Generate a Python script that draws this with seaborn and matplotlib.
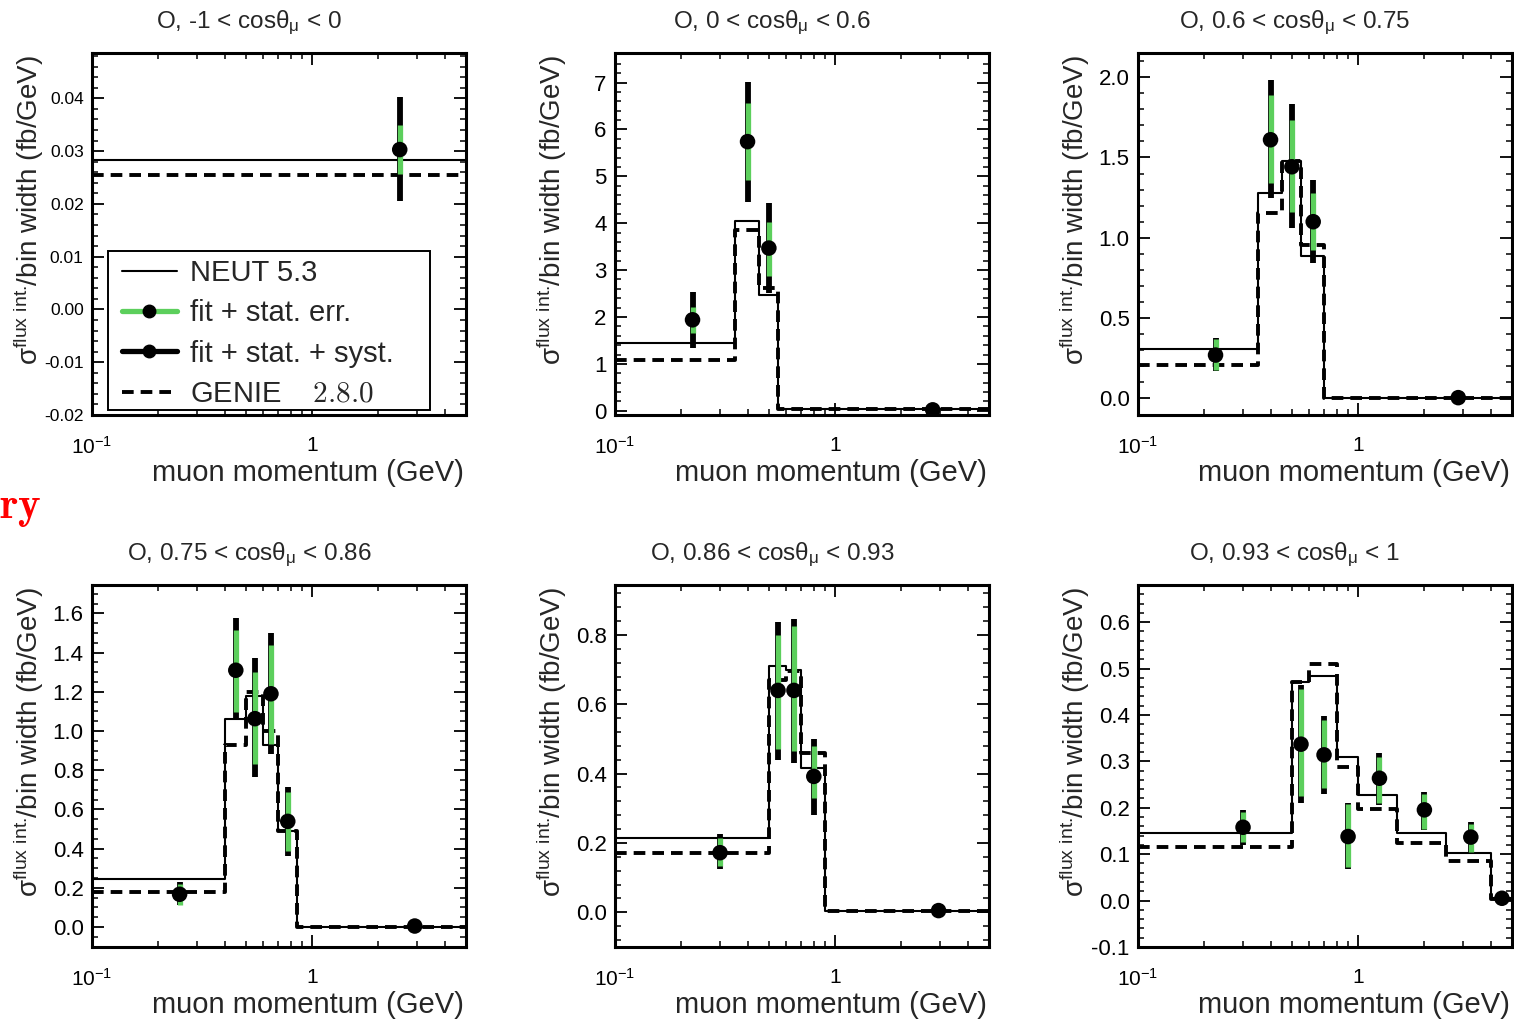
import numpy as np
import matplotlib
matplotlib.use("Agg")
import matplotlib.pyplot as plt
import seaborn as sns
from matplotlib.lines import Line2D
from matplotlib.patches import Rectangle
from matplotlib.ticker import FixedLocator, FixedFormatter, MultipleLocator, AutoMinorLocator, FormatStrFormatter, NullFormatter

# ---------------- data ----------------
titles = ["O, -1 < cosθ$_{μ}$ < 0", "O, 0 < cosθ$_{μ}$ < 0.6", "O, 0.6 < cosθ$_{μ}$ < 0.75",
          "O, 0.75 < cosθ$_{μ}$ < 0.86", "O, 0.86 < cosθ$_{μ}$ < 0.93", "O, 0.93 < cosθ$_{μ}$ < 1"]

p1_edges = [0.1, 5.0]
p1_neut = [0.0284]
p1_genie = [0.0254]
p1_x = [2.5]
p1_y = [0.0303]
p1_stat_lo = [0.0257]; p1_stat_hi = [0.0349]
p1_syst_lo = [0.0206]; p1_syst_hi = [0.0402]

p2_edges = [0.1, 0.35, 0.45, 0.55, 5.0]
p2_neut = [1.45, 4.05, 2.47, 0.03]
p2_genie = [1.08, 3.86, 2.61, 0.04]
p2_x = [0.225, 0.4, 0.5, 2.775]
p2_y = [1.94, 5.74, 3.47, 0.02]
p2_stat_lo = [1.65, 4.92, 2.87, 0.0]; p2_stat_hi = [2.22, 6.56, 4.03, 0.04]
p2_syst_lo = [1.33, 4.46, 2.52, 0.0]; p2_syst_hi = [2.54, 7.02, 4.43, 0.04]

p3_edges = [0.1, 0.35, 0.45, 0.55, 0.7, 5.0]
p3_neut = [0.306, 1.28, 1.48, 0.888, 0.0]
p3_genie = [0.208, 1.153, 1.48, 0.957, 0.0]
p3_x = [0.225, 0.4, 0.5, 0.625, 2.85]
p3_y = [0.27, 1.61, 1.442, 1.10, 0.005]
p3_stat_lo = [0.177, 1.339, 1.163, 0.926, 0.0]; p3_stat_hi = [0.368, 1.886, 1.73, 1.28, 0.01]
p3_syst_lo = [0.17, 1.246, 1.06, 0.843, 0.0]; p3_syst_hi = [0.375, 1.98, 1.835, 1.36, 0.01]

p4_edges = [0.1, 0.4, 0.5, 0.6, 0.7, 0.85, 5.0]
p4_neut = [0.244, 1.06, 1.18, 0.93, 0.49, 0.0]
p4_genie = [0.18, 0.93, 1.2, 1.0, 0.49, 0.0]
p4_x = [0.25, 0.45, 0.55, 0.65, 0.775, 2.925]
p4_y = [0.167, 1.31, 1.063, 1.19, 0.539, 0.005]
p4_stat_lo = [0.11, 1.097, 0.83, 0.934, 0.39, 0.0]; p4_stat_hi = [0.22, 1.515, 1.30, 1.44, 0.69, 0.01]
p4_syst_lo = [0.11, 1.054, 0.764, 0.884, 0.363, 0.0]; p4_syst_hi = [0.23, 1.575, 1.37, 1.498, 0.716, 0.01]

p5_edges = [0.1, 0.5, 0.6, 0.7, 0.9, 5.0]
p5_neut = [0.2136, 0.711, 0.70, 0.417, 0.005]
p5_genie = [0.172, 0.67, 0.695, 0.46, 0.003]
p5_x = [0.3, 0.55, 0.65, 0.8, 2.95]
p5_y = [0.172, 0.64, 0.64, 0.392, 0.005]
p5_stat_lo = [0.135, 0.47, 0.465, 0.33, 0.0]; p5_stat_hi = [0.215, 0.80, 0.825, 0.48, 0.01]
p5_syst_lo = [0.125, 0.44, 0.43, 0.28, 0.0]; p5_syst_hi = [0.225, 0.838, 0.845, 0.50, 0.01]

p6_edges = [0.1, 0.5, 0.6, 0.8, 1.0, 1.5, 2.5, 4.0, 5.0]
p6_neut = [0.1447, 0.470, 0.485, 0.31, 0.227, 0.145, 0.1024, 0.005]
p6_genie = [0.115, 0.47, 0.51, 0.288, 0.197, 0.125, 0.0845, 0.003]
p6_x = [0.3, 0.55, 0.7, 0.9, 1.25, 2.0, 3.25, 4.5]
p6_y = [0.158, 0.337, 0.314, 0.138, 0.2636, 0.1955, 0.1368, 0.005]
p6_stat_lo = [0.126, 0.225, 0.243, 0.072, 0.21, 0.155, 0.105, 0.0]; p6_stat_hi = [0.19, 0.455, 0.39, 0.208, 0.31, 0.23, 0.165, 0.01]
p6_syst_lo = [0.12, 0.21, 0.229, 0.068, 0.207, 0.152, 0.10, 0.0]; p6_syst_hi = [0.195, 0.465, 0.397, 0.21, 0.318, 0.235, 0.17, 0.01]

ylims = [(-0.02, 0.0486), (-0.09, 7.63), (-0.103, 2.15), (-0.102, 1.745), (-0.1, 0.944), (-0.1, 0.68)]
ymajor = [0.01, 1, 0.5, 0.2, 0.2, 0.1]
yminor_n = [5, 5, 5, 4, 5, 5]
yfmt = ["%.2f", "%d", "%.1f", "%.1f", "%.1f", "%.1f"]
x_tick_vals = [0.1, 1.0]
x_tick_labels = ["10$^{-1}$", "1"]
x_minor_vals = [0.2, 0.3, 0.4, 0.5, 0.6, 0.7, 0.8, 0.9, 2, 3, 4]

legend_labels = ["NEUT 5.3", "fit + stat. err.", "fit + stat. + syst.", r"GENIE    $\mathrm{2.8.0}$"]
xlabel = "muon momentum (GeV)"
ylabel = "σ$^{flux\\ int.}\\!$/bin width (fb/GeV)"
corner_text = r"$\mathbf{ry}$"

panels = [
    (p1_edges, p1_neut, p1_genie, p1_x, p1_y, p1_stat_lo, p1_stat_hi, p1_syst_lo, p1_syst_hi),
    (p2_edges, p2_neut, p2_genie, p2_x, p2_y, p2_stat_lo, p2_stat_hi, p2_syst_lo, p2_syst_hi),
    (p3_edges, p3_neut, p3_genie, p3_x, p3_y, p3_stat_lo, p3_stat_hi, p3_syst_lo, p3_syst_hi),
    (p4_edges, p4_neut, p4_genie, p4_x, p4_y, p4_stat_lo, p4_stat_hi, p4_syst_lo, p4_syst_hi),
    (p5_edges, p5_neut, p5_genie, p5_x, p5_y, p5_stat_lo, p5_stat_hi, p5_syst_lo, p5_syst_hi),
    (p6_edges, p6_neut, p6_genie, p6_x, p6_y, p6_stat_lo, p6_stat_hi, p6_syst_lo, p6_syst_hi),
]

# ---------------- style ----------------
sns.set_style("ticks")
plt.rcParams['font.family'] = ['Liberation Sans', 'DejaVu Sans']
plt.rcParams['mathtext.default'] = 'regular'
plt.rcParams['axes.unicode_minus'] = False

GREEN = '#5ccf5c'
W, H = 1514, 1025
fig = plt.figure(figsize=(W / 100, H / 100), dpi=100)
fig.patch.set_facecolor('white')

col_left = [92, 615, 1138]
row_top = [53, 585]
ax_w, ax_h = 374, 362

for i, (edges, neut, genie, xd, yd, slo, shi, ylo, yhi) in enumerate(panels):
    r, c = divmod(i, 3)
    L, T = col_left[c], row_top[r]
    ax = fig.add_axes([L / W, 1 - (T + ax_h) / H, ax_w / W, ax_h / H])
    ax.set_xscale('log')
    ax.set_facecolor('white')

    ex = np.array(edges)
    sns.lineplot(x=ex, y=np.append(neut, neut[-1]), ax=ax, color='black', lw=1.5,
                 drawstyle='steps-post', estimator=None, sort=False, zorder=2)
    sns.lineplot(x=ex, y=np.append(genie, genie[-1]), ax=ax, color='black', lw=2.8,
                 linestyle=(0, (3.0, 1.8)), drawstyle='steps-post', estimator=None, sort=False, zorder=2)

    ax.vlines(xd, ylo, yhi, color='black', lw=4.2, zorder=3, capstyle='butt')
    ax.vlines(xd, slo, shi, color=GREEN, lw=3.8, zorder=4, capstyle='butt')
    sns.scatterplot(x=xd, y=yd, ax=ax, color='black', s=125, edgecolor='none', zorder=5, legend=False)

    ax.set_xlim(0.1, 5.0)
    ax.set_ylim(*ylims[i])
    ax.set_xlabel('')
    ax.set_ylabel('')

    ax.xaxis.set_major_locator(FixedLocator(x_tick_vals))
    ax.xaxis.set_major_formatter(FixedFormatter(x_tick_labels))
    ax.xaxis.set_minor_locator(FixedLocator(x_minor_vals))
    ax.xaxis.set_minor_formatter(NullFormatter())
    ax.yaxis.set_major_locator(MultipleLocator(ymajor[i]))
    ax.yaxis.set_minor_locator(AutoMinorLocator(yminor_n[i]))
    ax.yaxis.set_major_formatter(FormatStrFormatter(yfmt[i]))

    ax.tick_params(which='both', direction='in', top=True, right=True, colors='black')
    ax.tick_params(which='major', length=8.5, width=1.3)
    ax.tick_params(which='minor', length=4.5, width=1.1)
    ax.tick_params(axis='x', which='major', pad=15, labelsize=15)
    ax.tick_params(axis='y', which='major', pad=6, labelsize=(12.5 if i == 0 else 16))
    for s in ax.spines.values():
        s.set_linewidth(2.2)
        s.set_color('black')
        s.set_visible(True)

    cx = L + ax_w / 2 - 30
    fig.text(cx / W, 1 - (T - 25) / H, titles[i], ha='center', va='baseline', fontsize=17.5)
    fig.text((L + ax_w - 2) / W, 1 - (T + ax_h + 66) / H, xlabel, ha='right', va='baseline', fontsize=21)
    fig.text((L - 63) / W, 1 - (T + 2) / H, ylabel, rotation=90, ha='center', va='top', fontsize=20)

    if i == 0:
        box = Rectangle((16 / ax_w, 5 / ax_h), 322 / ax_w, 159 / ax_h, transform=ax.transAxes,
                        facecolor='white', edgecolor='black', lw=1.4, zorder=5.5)
        ax.add_patch(box)
        handles = [
            Line2D([], [], color='black', lw=1.5),
            Line2D([], [], color=GREEN, lw=3.8, marker='o', markersize=9, markerfacecolor='black', markeredgecolor='black'),
            Line2D([], [], color='black', lw=3.8, marker='o', markersize=9, markerfacecolor='black', markeredgecolor='black'),
            Line2D([], [], color='black', lw=2.8, linestyle=(0, (3.0, 1.8))),
        ]
        leg = ax.legend(handles, legend_labels, loc='upper left',
                        bbox_to_anchor=(30 / ax_w, (415 - 259) / ax_h),
                        borderaxespad=0, fontsize=21, frameon=False,
                        handlelength=1.88, handletextpad=0.45, labelspacing=0.42,
                        borderpad=0, numpoints=1)
        leg.set_zorder(6)
        leg.get_texts()[3].set_math_fontfamily('cm')

# partially visible red word at left edge
t = fig.text(41 / W, 1 - 518 / H, corner_text, color='red', ha='right', va='baseline', fontsize=31)
t.set_math_fontfamily('cm')

fig.savefig('out.png', dpi=100, facecolor='white')
